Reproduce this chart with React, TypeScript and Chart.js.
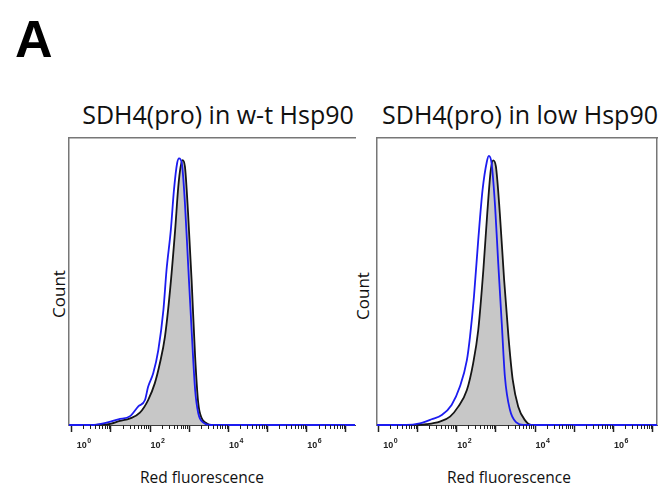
import React, { useEffect, useRef } from "react";
import { Chart, registerables } from "chart.js";

Chart.register(...registerables);

// ---- data (x = log10 red fluorescence, y = relative count) ----
const majorTicks = [0, 1, 2, 3, 4, 5, 6, 7];
const tickBase = ["10", "", "10", "", "10", "", "10", ""];
const tickExponents = ["0", "", "2", "", "4", "", "6", ""];

const panelTitles = ["SDH4(pro) in w-t Hsp90", "SDH4(pro) in low Hsp90"];
const xAxisTitle = "Red fluorescence";
const yAxisTitle = "Count";
const figureLetter = "A";

// Panel 1 (w-t Hsp90): black filled histogram
const p1BlackLog = [0.89, 1.23, 1.49, 1.74, 1.95, 2.12, 2.25, 2.38, 2.51, 2.64, 2.72, 2.78, 2.83, 2.89, 2.97, 3.06, 3.15, 3.23, 3.32, 3.44, 3.57];
const p1BlackCount = [0.2, 1.4, 2.3, 4.3, 8.7, 14.5, 21.5, 30.8, 47, 68, 83, 90, 92.3, 90, 73.8, 50.5, 23.8, 7.6, 2.3, 0.6, 0];
// Panel 1: blue open histogram
const p1BlueLog = [0.55, 0.89, 1.19, 1.49, 1.7, 1.87, 1.95, 2.08, 2.21, 2.34, 2.42, 2.53, 2.61, 2.69, 2.74, 2.81, 2.89, 2.97, 3.06, 3.15, 3.23, 3.36, 3.53];
const p1BlueCount = [0, 0.8, 2, 3.1, 6.5, 8.7, 13.3, 18, 26.1, 40, 54, 68, 81.9, 91.2, 92.9, 91.2, 77.2, 56.3, 33.1, 12.2, 4.1, 0.8, 0];

// Panel 2 (low Hsp90): black filled histogram
const p2BlackLog = [0.89, 1.23, 1.57, 1.83, 2.04, 2.26, 2.42, 2.55, 2.68, 2.78, 2.87, 2.93, 3.0, 3.1, 3.21, 3.32, 3.43, 3.57, 3.74, 3.91];
const p2BlackCount = [0, 0.3, 1.2, 2.9, 6.4, 12.2, 21.5, 33.1, 54, 73.8, 88.9, 92.2, 90.1, 73.8, 50.6, 30.9, 15.7, 6.4, 1.7, 0];
// Panel 2: blue open histogram
const p2BlueLog = [0.72, 1.06, 1.36, 1.62, 1.87, 2.08, 2.26, 2.34, 2.44, 2.55, 2.66, 2.77, 2.82, 2.89, 2.98, 3.06, 3.15, 3.23, 3.36, 3.53, 3.7];
const p2BlueCount = [0, 0.6, 2, 3.5, 7, 13.3, 22.6, 30.8, 44.7, 64.5, 81.9, 91.8, 93.8, 91.2, 76.1, 56.3, 35.4, 16.8, 5.2, 0.8, 0];

const BLUE = "#1c1cf0";
const BLACK = "#151515";
const FILL = "#c7c7c7";
const FRAME = "#777777";

// minor (2..9 x 10^n) tick marks and "10^n" labels with raised exponents
const logAxisPlugin = {
  id: "logAxis",
  afterDraw(chart: any) {
    const xs = chart.scales.x;
    const { ctx, chartArea } = chart;
    ctx.save();
    ctx.strokeStyle = "#222";
    ctx.lineWidth = 1;
    for (const d of majorTicks) {
      for (let k = 2; k <= 9; k++) {
        const v = d + Math.log10(k);
        if (v < xs.min || v > xs.max) continue;
        const px = Math.round(xs.getPixelForValue(v)) + 0.5;
        ctx.beginPath();
        ctx.moveTo(px, chartArea.bottom);
        ctx.lineTo(px, chartArea.bottom + 4);
        ctx.stroke();
      }
    }
    ctx.fillStyle = "#222";
    ctx.textAlign = "left";
    ctx.textBaseline = "alphabetic";
    majorTicks.forEach((v, i) => {
      if (!tickBase[i]) return;
      const px = xs.getPixelForValue(v) + (i === 0 ? 5 : 0.5);
      ctx.font = "bold 9px 'Liberation Sans', Arial, sans-serif";
      ctx.fillText(tickBase[i], px, chartArea.bottom + 22.5);
      const w = ctx.measureText(tickBase[i]).width;
      ctx.font = "bold 7px 'Liberation Sans', Arial, sans-serif";
      ctx.fillText(tickExponents[i], px + w + 0.5, chartArea.bottom + 17.5);
    });
    ctx.restore();
  },
};

function toPoints(xs: number[], ys: number[], min: number, max: number) {
  const pts = xs.map((x, i) => ({ x, y: ys[i] }));
  return [{ x: min, y: 0 }, ...pts, { x: max, y: 0 }];
}

type PanelProps = {
  left: number;
  width: number;
  yWidth: number;
  padRight: number;
  xMin: number;
  xMax: number;
  blackLog: number[];
  blackCount: number[];
  blueLog: number[];
  blueCount: number[];
  rightBorder: boolean;
};

function Panel(p: PanelProps) {
  const ref = useRef<HTMLCanvasElement | null>(null);
  useEffect(() => {
    if (!ref.current) return;
    const scales: any = {
      x: {
        type: "linear",
        position: "bottom",
        min: p.xMin,
        max: p.xMax,
        afterBuildTicks: (s: any) => {
          s.ticks = majorTicks.map((v) => ({ value: v }));
        },
        afterFit: (s: any) => {
          s.height = 35;
        },
        grid: { drawOnChartArea: false, drawTicks: true, tickLength: 7, tickColor: "#222", tickWidth: 1.5 },
        border: { display: true, color: "#3a3a3a", width: 1 },
        ticks: {
          autoSkip: false,
          maxRotation: 0,
          minRotation: 0,
          color: "rgba(0,0,0,0)",
          font: { size: 1 },
          callback: () => "",
        },
      },
      xTop: {
        type: "linear",
        position: "top",
        min: p.xMin,
        max: p.xMax,
        grid: { display: false, drawTicks: false },
        ticks: { display: false },
        border: { display: true, color: FRAME, width: 1.5 },
        afterFit: (s: any) => {
          s.height = 0;
        },
      },
      y: {
        type: "linear",
        position: "left",
        min: 0,
        max: 100,
        grid: { display: false, drawTicks: false },
        ticks: { display: false },
        border: { display: true, color: FRAME, width: 1.5 },
        afterFit: (s: any) => {
          s.width = p.yWidth;
        },
      },
    };
    if (p.rightBorder) {
      scales.yRight = {
        type: "linear",
        position: "right",
        min: 0,
        max: 100,
        grid: { display: false, drawTicks: false },
        ticks: { display: false },
        border: { display: true, color: FRAME, width: 1.5 },
        afterFit: (s: any) => {
          s.width = 0;
        },
      };
    }
    const chart = new Chart(ref.current, {
      type: "line",
      data: {
        datasets: [
          {
            label: "blue",
            data: toPoints(p.blueLog, p.blueCount, p.xMin, p.xMax),
            borderColor: BLUE,
            borderWidth: 1.8,
            pointRadius: 0,
            fill: false,
            cubicInterpolationMode: "monotone",
            clip: 6,
            order: 0,
          } as any,
          {
            label: "black",
            data: toPoints(p.blackLog, p.blackCount, p.xMin, p.xMax),
            borderColor: BLACK,
            backgroundColor: FILL,
            borderWidth: 1.8,
            pointRadius: 0,
            fill: "origin",
            cubicInterpolationMode: "monotone",
            clip: 6,
            order: 1,
          } as any,
        ],
      },
      options: {
        responsive: false,
        animation: false,
        devicePixelRatio: 1,
        layout: { padding: { left: 0, right: p.padRight, top: 8, bottom: 0 } },
        plugins: { legend: { display: false }, tooltip: { enabled: false }, title: { display: false } },
        scales,
      } as any,
      plugins: [logAxisPlugin],
    });
    return () => chart.destroy();
  }, []);
  return (
    <canvas
      ref={ref}
      width={p.width}
      height={330}
      style={{ position: "absolute", left: p.left, top: 130, width: p.width, height: 330 }}
    />
  );
}

const textBase: React.CSSProperties = {
  position: "absolute",
  fontFamily: "'Open Sans', 'Noto Sans', sans-serif",
  color: "#111",
  whiteSpace: "nowrap",
};

export default function App() {
  return (
    <div
      style={{
        position: "absolute",
        left: 0,
        top: 0,
        width: 664,
        height: 485,
        background: "#fff",
        overflow: "hidden",
      }}
    >
      <div
        style={{
          ...textBase,
          fontFamily: "'Liberation Sans', Arial, sans-serif",
          fontWeight: "bold",
          fontSize: 52,
          lineHeight: "52px",
          left: 15,
          top: 13,
          color: "#000",
        }}
      >
        {figureLetter}
      </div>

      <div style={{ ...textBase, fontSize: 25, lineHeight: "25px", left: 118, width: 200, top: 102, display: "flex", justifyContent: "center" }}>
        {panelTitles[0]}
      </div>
      <div style={{ ...textBase, fontSize: 25, lineHeight: "25px", left: 420, width: 200, top: 102, display: "flex", justifyContent: "center" }}>
        {panelTitles[1]}
      </div>

      <div style={{ ...textBase, fontSize: 17, lineHeight: "17px", left: 58.4, top: 294, transform: "translate(-50%, -50%) rotate(-90deg)" }}>
        {yAxisTitle}
      </div>
      <div style={{ ...textBase, fontSize: 17, lineHeight: "17px", left: 362, top: 296, transform: "translate(-50%, -50%) rotate(-90deg)" }}>
        {yAxisTitle}
      </div>

      <div style={{ ...textBase, fontSize: 15.5, lineHeight: "16px", left: 152, width: 100, top: 469, display: "flex", justifyContent: "center" }}>
        {xAxisTitle}
      </div>
      <div style={{ ...textBase, fontSize: 15.5, lineHeight: "16px", left: 459, width: 100, top: 469, display: "flex", justifyContent: "center" }}>
        {xAxisTitle}
      </div>

      <Panel
        left={0}
        width={360}
        yWidth={69}
        padRight={5}
        xMin={-0.069}
        xMax={7.23}
        blackLog={p1BlackLog}
        blackCount={p1BlackCount}
        blueLog={p1BlueLog}
        blueCount={p1BlueCount}
        rightBorder={false}
      />
      <Panel
        left={360}
        width={304}
        yWidth={17}
        padRight={7}
        xMin={-0.033}
        xMax={7.11}
        blackLog={p2BlackLog}
        blackCount={p2BlackCount}
        blueLog={p2BlueLog}
        blueCount={p2BlueCount}
        rightBorder={true}
      />
    </div>
  );
}
